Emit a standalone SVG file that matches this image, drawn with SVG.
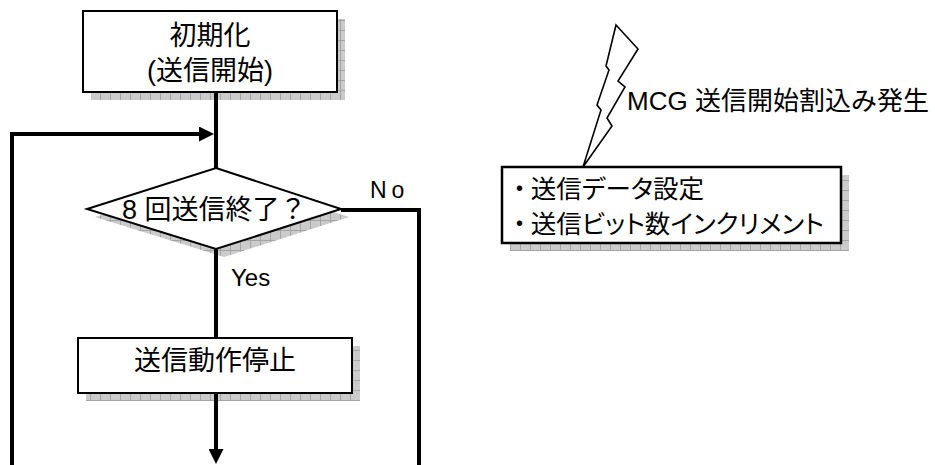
<svg xmlns="http://www.w3.org/2000/svg" width="935" height="465" viewBox="0 0 935 465">
<style>
.box{fill:#fff;stroke:#000;stroke-width:2}
.shadow{fill:url(#shade)}
.t{font-family:"Liberation Sans","Noto Sans CJK JP",sans-serif;fill:#000}
.p{font-feature-settings:"palt" 1}
.c{fill:none;stroke:#000;stroke-width:4}
</style>
<defs>
<pattern id="shade" width="10" height="10" patternUnits="userSpaceOnUse">
<rect width="10" height="10" fill="#cbcbcb"/>
<path d="M0 0.5H10M0.5 0V10" stroke="#a4a4a4" stroke-width="1"/>
</pattern>
<marker id="arr" markerUnits="userSpaceOnUse" markerWidth="15" markerHeight="15" viewBox="0 0 15 15" refX="4" refY="7.5" orient="auto">
<path d="M0 0L15 7.5L0 15z" fill="#000"/>
</marker>
</defs>
<rect width="935" height="465" fill="#fff"/>

<g id="init">
<rect class="shadow" x="91" y="19" width="254" height="81"/>
<rect class="box" x="83" y="11" width="254" height="81"/>
<text class="t" x="210" y="45" font-size="27" text-anchor="middle">初期化</text>
<text class="t" x="210" y="80" font-size="27" text-anchor="middle">(送信開始)</text>
</g>

<g id="decision">
<polygon class="shadow" points="224,176 349,217 224,257 95,217"/>
<polygon class="box" points="216,168 341,209 216,249 87,209"/>
<text class="t" x="122" y="219" font-size="27">8 回送信終了？</text>
</g>

<g id="stop">
<rect class="shadow" x="86" y="346" width="274" height="55"/>
<rect class="box" x="78" y="338" width="274" height="55"/>
<text class="t" x="215" y="370" font-size="27" text-anchor="middle">送信動作停止</text>
</g>

<g id="isr">
<rect class="shadow" x="510" y="175" width="339" height="76"/>
<rect class="box" x="502" y="167" width="339" height="76" style="stroke-width:2.5"/>
<text class="t p" x="513" y="198" font-size="25.5">・<tspan dx="5">送信データ設定</tspan></text>
<text class="t p" x="513" y="233" font-size="25.5">・<tspan dx="5">送信ビット数インクリメント</tspan></text>
</g>

<g id="interrupt">
<polygon points="616,25 638,49 618,81 625,87 607,118 612,126 583,167 601,110 597,105 609,70 606,66" fill="#fff" stroke="#000" stroke-width="1.6" stroke-linejoin="miter"/>
<text class="t" x="627" y="110" font-size="26">MCG 送信開始割込み発生</text>
</g>

<g id="connectors">
<path class="c" d="M216 92V168"/>
<path class="c" d="M12 465V134H203" marker-end="url(#arr)"/>
<path class="c" d="M216 249V338"/>
<path class="c" d="M216 393V453" marker-end="url(#arr)"/>
<path class="c" d="M341 210H419V465"/>
<text class="t" x="370" y="198" font-size="23" letter-spacing="5">No</text>
<text class="t" x="231" y="286" font-size="24">Yes</text>
</g>
</svg>
